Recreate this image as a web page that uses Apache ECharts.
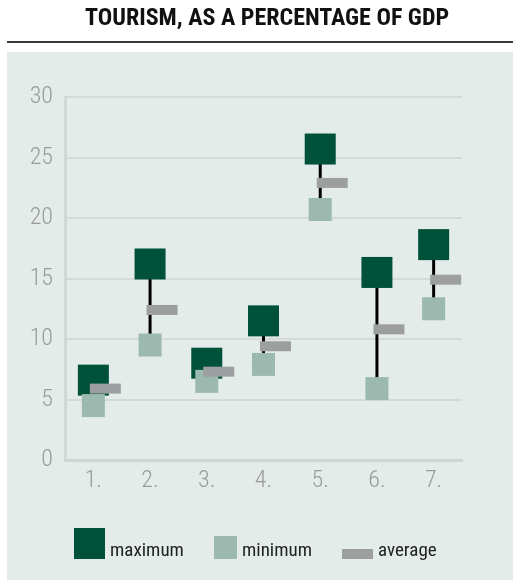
<!DOCTYPE html>
<html>
<head>
<meta charset="utf-8">
<script src="https://cdn.jsdelivr.net/npm/echarts@6/dist/echarts.min.js"></script>
<style>html,body{margin:0;padding:0;background:#fff}#c{width:513px;height:580px}</style>
</head>
<body>
<div id="c"></div>
<script>
const categories = ['1.', '2.', '3.', '4.', '5.', '6.', '7.'];
const maximumValues = [6.6, 16.2, 8.0, 11.5, 25.7, 15.5, 17.8];
const minimumValues = [4.5, 9.5, 6.5, 7.9, 20.7, 5.9, 12.5];
const averageValues = [5.9, 12.4, 7.3, 9.4, 22.9, 10.8, 14.9];
const yTicks = [0, 5, 10, 15, 20, 25, 30];

const FONT = "'Roboto Condensed', 'Open Sans Condensed', sans-serif";
const DARK = '#00513a', LIGHT = '#9bb9af', GREY = '#9d9e9f', PANEL = '#e4ece9', GRID = '#d0d4d2';

const legendText = {fontFamily: FONT, fontSize: 19, color: '#222'};

const chart = echarts.init(document.getElementById('c'), null, {renderer: 'canvas'});
chart.setOption({
  animation: false,
  backgroundColor: '#ffffff',
  title: {
    text: 'TOURISM, AS A PERCENTAGE OF GDP',
    left: 85, top: 7, padding: 0,
    textStyle: {fontFamily: FONT, fontWeight: 'bold', fontSize: 24, color: '#111'}
  },
  graphic: [
    {type: 'rect', z: -10, shape: {x: 7, y: 52, width: 506, height: 528}, style: {fill: PANEL}},
    {type: 'rect', z: -10, shape: {x: 7, y: 41, width: 506, height: 2}, style: {fill: '#3a3a3a'}}
  ],
  grid: {left: 65, right: 51, top: 97, bottom: 120, containLabel: false},
  xAxis: {
    type: 'category', data: categories, boundaryGap: true,
    axisLine: {show: true, lineStyle: {color: GRID, width: 3}},
    axisTick: {show: false},
    splitLine: {show: false},
    axisLabel: {fontFamily: FONT, fontWeight: 300, fontSize: 24, color: '#9a9a9a', margin: 9}
  },
  yAxis: {
    type: 'value', min: yTicks[0], max: yTicks[yTicks.length - 1], interval: yTicks[1] - yTicks[0],
    axisLine: {show: true, lineStyle: {color: GRID, width: 2.5}},
    axisTick: {show: false},
    splitLine: {show: true, lineStyle: {color: GRID, width: 1.5}},
    axisLabel: {fontFamily: FONT, fontWeight: 300, fontSize: 24, color: '#9a9a9a', margin: 12}
  },
  legend: [
    {left: 74, top: 528, padding: 0, itemWidth: 31, itemHeight: 47, selectedMode: false,
     data: [{name: 'maximum', icon: 'path://M0,0L31,0L31,31L0,31Z M0,47'}], textStyle: legendText},
    {left: 214, top: 528, padding: 0, itemWidth: 23, itemHeight: 47, selectedMode: false,
     data: [{name: 'minimum', icon: 'path://M0,0 M0,8L23,8L23,31L0,31Z M0,47'}], textStyle: legendText},
    {left: 342, top: 528, padding: 0, itemWidth: 31, itemHeight: 47, selectedMode: false,
     data: [{name: 'average', icon: 'path://M0,0 M0,21L31,21L31,31L0,31Z M0,47'}], textStyle: legendText}
  ],
  series: [
    {
      type: 'custom', name: 'range', silent: true,
      data: categories.map((c, i) => [i, minimumValues[i], maximumValues[i]]),
      encode: {x: 0, y: [1, 2]},
      renderItem: function (params, api) {
        const a = api.coord([api.value(0), api.value(1)]);
        const b = api.coord([api.value(0), api.value(2)]);
        return {type: 'line', shape: {x1: a[0], y1: a[1], x2: b[0], y2: b[1]},
                style: {stroke: '#000', lineWidth: 3}};
      }
    },
    {type: 'scatter', name: 'maximum', silent: true, symbol: 'rect', symbolSize: 31,
     itemStyle: {color: DARK, opacity: 1}, data: maximumValues},
    {type: 'scatter', name: 'minimum', silent: true, symbol: 'rect', symbolSize: 23,
     itemStyle: {color: LIGHT, opacity: 1}, data: minimumValues},
    {type: 'scatter', name: 'average', silent: true, symbol: 'rect', symbolSize: [31, 10], symbolOffset: [12, 0],
     itemStyle: {color: GREY, opacity: 1}, data: averageValues}
  ]
});
</script>
</body>
</html>
